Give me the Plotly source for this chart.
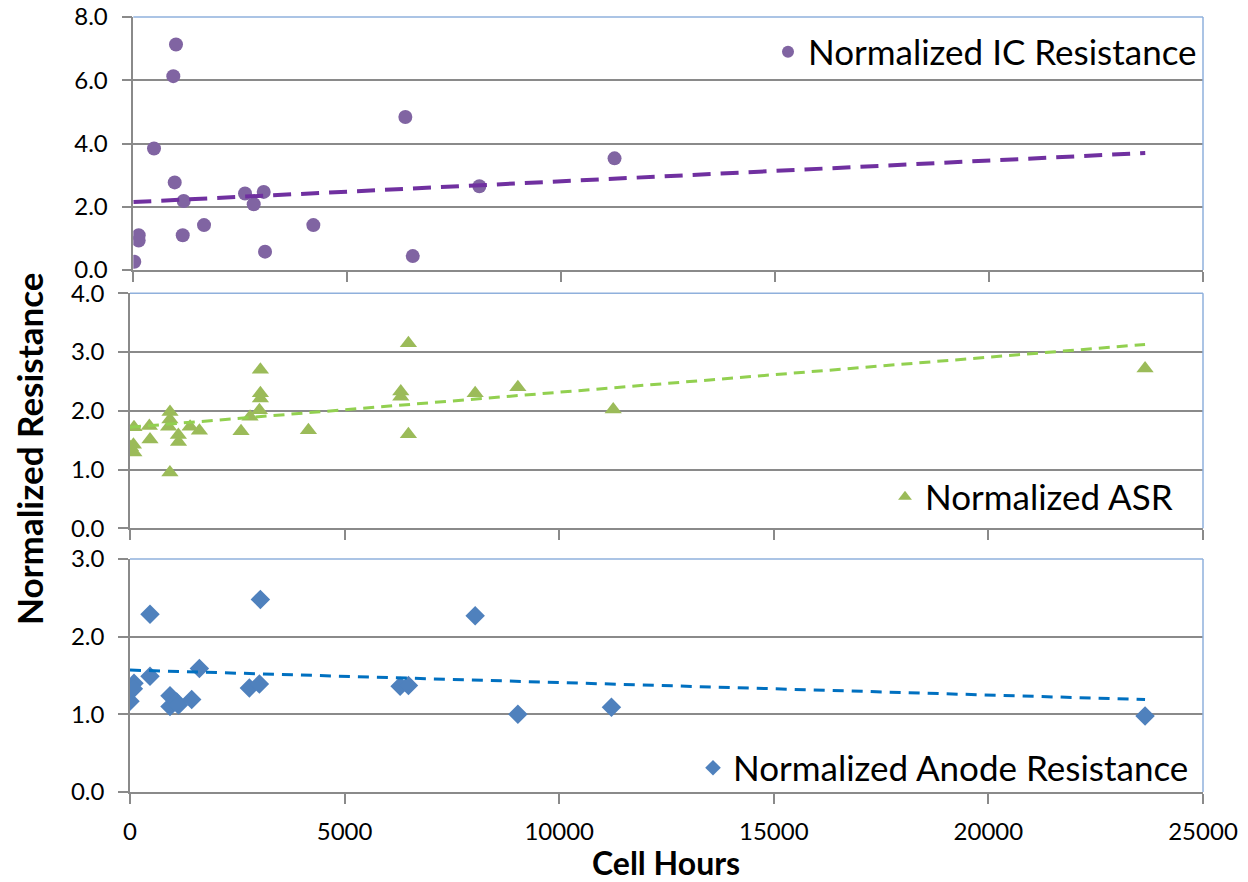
import plotly.graph_objects as go

# ---------------- data ----------------
ic_hours = [23, 126, 126, 484, 935, 998, 968, 1178, 1155, 1653, 2611, 2814,
            3048, 3079, 4208, 6358, 6531, 8088, 11247]
ic_res = [0.26, 1.10, 0.93, 3.84, 6.13, 7.13, 2.77, 2.18, 1.10, 1.42, 2.42, 2.08,
          2.47, 0.58, 1.42, 4.84, 0.44, 2.65, 3.53]
ic_trend_hours = [0, 23650]
ic_trend_res = [2.15, 3.70]

asr_hours = [10, 80, 90, 93, 451, 466, 900, 930, 932, 930, 1127, 1130, 1400,
             1617, 2587, 2797, 3015, 3038, 3038, 3038, 4157, 6309, 6309, 6487,
             6487, 8042, 9037, 11259, 23650]
asr_res = [1.38, 1.42, 1.29, 1.72, 1.74, 1.51, 1.73, 1.85, 1.98, 0.95, 1.59, 1.47,
           1.73, 1.66, 1.65, 1.90, 2.01, 2.70, 2.30, 2.21, 1.67, 2.33, 2.24, 3.15,
           1.60, 2.30, 2.40, 2.02, 2.72]
asr_trend_hours = [0, 23650]
asr_trend_res = [1.72, 3.13]

anode_hours = [0, 93, 78, 466, 466, 932, 932, 1088, 1130, 1437, 1617, 2781, 3015,
               3038, 6294, 6487, 8042, 9037, 11217, 23650]
anode_res = [1.17, 1.40, 1.33, 2.29, 1.49, 1.24, 1.10, 1.16, 1.12, 1.19, 1.59, 1.34,
             1.39, 2.48, 1.36, 1.37, 2.27, 1.00, 1.09, 0.98]
anode_trend_hours = [0, 23650]
anode_trend_res = [1.57, 1.19]

x_ticks = [0, 5000, 10000, 15000, 20000, 25000]
x_tick_text = ["0", "5000", "10000", "15000", "20000", "25000"]
labels = ["Normalized IC Resistance", "Normalized ASR", "Normalized Anode Resistance"]

# ---------------- styling ----------------
FONT = "Lato"
GRID = "#8a8a8a"
BORDER = "#8fb0dc"
W, H = 1248, 882
ML, MR, MT, MB = 130, 45, 17, 90

fig = go.Figure()

fig.add_trace(go.Scatter(x=ic_hours, y=ic_res, mode="markers", name=labels[0],
                         marker=dict(symbol="circle", size=14, color="#8064A2"),
                         xaxis="x", yaxis="y", legend="legend"))
fig.add_trace(go.Scatter(x=ic_trend_hours, y=ic_trend_res, mode="lines", showlegend=False,
                         line=dict(color="#7030A0", width=4, dash="18px,10px"),
                         xaxis="x", yaxis="y", hoverinfo="skip"))

fig.add_trace(go.Scatter(x=asr_hours, y=asr_res, mode="markers", name=labels[1],
                         marker=dict(symbol="triangle-up", size=15, color="#9BBB59"),
                         xaxis="x2", yaxis="y2", legend="legend2"))
fig.add_trace(go.Scatter(x=asr_trend_hours, y=asr_trend_res, mode="lines", showlegend=False,
                         line=dict(color="#92D050", width=3, dash="11px,7px"),
                         xaxis="x2", yaxis="y2", hoverinfo="skip"))

fig.add_trace(go.Scatter(x=anode_hours, y=anode_res, mode="markers", name=labels[2],
                         marker=dict(symbol="diamond", size=15, color="#4F81BD"),
                         xaxis="x3", yaxis="y3", legend="legend3"))
fig.add_trace(go.Scatter(x=anode_trend_hours, y=anode_trend_res, mode="lines", showlegend=False,
                         line=dict(color="#0070C0", width=3, dash="11px,8px"),
                         xaxis="x3", yaxis="y3", hoverinfo="skip"))

tickfont = dict(family=FONT, size=24, color="#000000")


def xax(domain, anchor, show_labels):
    return dict(domain=domain, anchor=anchor, range=[0, 25000], tickvals=x_ticks,
                ticktext=x_tick_text,
                showticklabels=show_labels, ticks="outside", ticklen=10, tickwidth=1.5,
                tickcolor=GRID, showline=True, linecolor=GRID, linewidth=1.5,
                showgrid=False, zeroline=False, tickfont=tickfont, ticklabelstandoff=7,
                ticklabeloverflow="allow", automargin=False)


def yax(domain, anchor, top, dtick):
    return dict(domain=domain, anchor=anchor, range=[0, top], dtick=dtick,
                tickformat=".1f", ticks="outside", ticklen=10, tickwidth=1.5,
                tickcolor=GRID, showline=True, linecolor=GRID, linewidth=1.5,
                showgrid=True, gridcolor=GRID, gridwidth=1.5, zeroline=False,
                tickfont=tickfont, ticklabelstandoff=9, ticklabeloverflow="allow",
                automargin=False)


plot_w = W - ML - MR
plot_h = H - MT - MB


def fy(py):
    return (H - MB - py) / plot_h


def fx(px):
    return (px - ML) / plot_w


top_dom = [fy(270), 1.0]
mid_dom = [fy(528.3), fy(293.3)]
bot_dom = [0.0, fy(559)]
top_x0 = fx(133.3)

legend_common = dict(xanchor="right", yanchor="middle", bgcolor="rgba(0,0,0,0)",
                     font=dict(family=FONT, size=35, color="#000000"),
                     itemsizing="constant")

fig.update_layout(
    width=W, height=H,
    margin=dict(l=ML, r=MR, t=MT, b=MB),
    paper_bgcolor="white", plot_bgcolor="white",
    font=dict(family=FONT),
    xaxis=xax([top_x0, 1.0], "y", False),
    yaxis=yax(top_dom, "x", 8, 2),
    xaxis2=xax([0.0, 1.0], "y2", False),
    yaxis2=yax(mid_dom, "x2", 4, 1),
    xaxis3=xax([0.0, 1.0], "y3", True),
    yaxis3=yax(bot_dom, "x3", 3, 1),
    legend=dict(x=fx(1202), y=fy(52), **legend_common),
    legend2=dict(x=fx(1178), y=fy(497), **legend_common),
    legend3=dict(x=fx(1194), y=fy(768), **legend_common),
    showlegend=True,
)

# plot-area border (top and right edges, light blue)
for xa, ya in [("x", "y"), ("x2", "y2"), ("x3", "y3")]:
    fig.add_shape(type="line", xref=f"{xa} domain", yref=f"{ya} domain",
                  x0=0, x1=1, y0=1, y1=1, line=dict(color=BORDER, width=1.5), layer="above")
    fig.add_shape(type="line", xref=f"{xa} domain", yref=f"{ya} domain",
                  x0=1, x1=1, y0=0, y1=1, line=dict(color=BORDER, width=1.5), layer="above")

fig.add_annotation(text="<b>Cell Hours</b>", xref="paper", yref="paper",
                   x=fx(666), y=fy(862), xanchor="center", yanchor="middle", showarrow=False,
                   font=dict(family=FONT, size=32, color="#000000"))
fig.add_annotation(text="<b>Normalized Resistance</b>", xref="paper", yref="paper",
                   x=fx(29), y=fy(449), xanchor="center", yanchor="middle",
                   textangle=-90, showarrow=False,
                   font=dict(family=FONT, size=35, color="#000000"))

fig.write_html("out.html", config={"displayModeBar": False},
               post_script="document.body.style.margin='0';document.body.style.overflow='hidden';")
